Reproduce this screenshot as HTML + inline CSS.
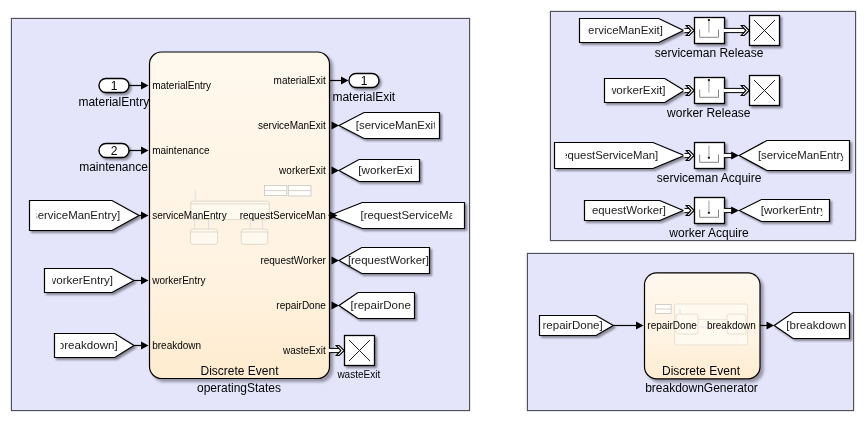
<!DOCTYPE html><html><head><meta charset="utf-8"><style>html,body{margin:0;padding:0;background:#fff;width:866px;height:421px;overflow:hidden}svg{display:block;font-family:"Liberation Sans",sans-serif;will-change:transform}</style></head><body>
<svg width="866" height="421" viewBox="0 0 866 421">
<defs>
<filter id="sh" x="-20%" y="-20%" width="150%" height="160%"><feGaussianBlur in="SourceAlpha" stdDeviation="1.3"/><feOffset dx="2.2" dy="2.4" result="b"/><feComponentTransfer><feFuncA type="linear" slope="0.42"/></feComponentTransfer><feMerge><feMergeNode/><feMergeNode in="SourceGraphic"/></feMerge></filter>
<filter id="sh2" x="-10%" y="-10%" width="130%" height="130%"><feGaussianBlur in="SourceAlpha" stdDeviation="1.5"/><feOffset dx="2.5" dy="2.5" result="b"/><feComponentTransfer><feFuncA type="linear" slope="0.35"/></feComponentTransfer><feMerge><feMergeNode/><feMergeNode in="SourceGraphic"/></feMerge></filter>
<linearGradient id="cg" x1="0" y1="0" x2="0" y2="1"><stop offset="0" stop-color="rgb(255,248,237)"/><stop offset="0.64" stop-color="rgb(255,243,226)"/><stop offset="1" stop-color="rgb(255,236,208)"/></linearGradient>
</defs>
<rect width="866" height="421" fill="#fff"/>
<rect x="11.5" y="18.5" width="458" height="392" fill="#e4e4fb" stroke="#50505c" stroke-width="1.3"/>
<rect x="12.6" y="19.6" width="455.8" height="389.8" fill="none" stroke="#f0f0ff" stroke-width="0.7"/>
<rect x="550.5" y="11.5" width="305" height="229" fill="#e4e4fb" stroke="#50505c" stroke-width="1.3"/>
<rect x="551.6" y="12.6" width="302.8" height="226.8" fill="none" stroke="#f0f0ff" stroke-width="0.7"/>
<rect x="527.5" y="253.5" width="326" height="157" fill="#e4e4fb" stroke="#50505c" stroke-width="1.3"/>
<rect x="528.6" y="254.6" width="323.8" height="154.8" fill="none" stroke="#f0f0ff" stroke-width="0.7"/>
<rect x="149.5" y="52" width="180.0" height="326.5" rx="12" ry="12" fill="url(#cg)" stroke="#000" stroke-width="1.2" filter="url(#sh2)"/>
<g fill="none" stroke-width="0.8">
<rect x="264.5" y="185.5" width="22.3" height="10" fill="#fffefb" stroke="#c9c6c0"/><line x1="264.5" y1="190.6" x2="286.8" y2="190.6" stroke="#c9c6c0"/>
<rect x="288.3" y="185.5" width="22.7" height="10.5" fill="#fffefb" stroke="#c9c6c0"/><line x1="288.3" y1="190.6" x2="311" y2="190.6" stroke="#c9c6c0"/>
<rect x="190.8" y="201.2" width="78.5" height="18.4" rx="2" fill="#fffaf0" stroke="#d9d0bf"/><line x1="190.8" y1="203.9" x2="269.3" y2="203.9" stroke="#d9d0bf"/>
<line x1="195.2" y1="190" x2="195.2" y2="201" stroke="#d3d9e6"/>
<rect x="190.4" y="229.1" width="27.2" height="15.2" rx="2.5" fill="#fffaf0" stroke="#d9d0bf"/><line x1="190.4" y1="232" x2="217.6" y2="232" stroke="#d9d0bf"/>
<rect x="241.2" y="229.1" width="26.6" height="15.2" rx="2.5" fill="#fffaf0" stroke="#d9d0bf"/><line x1="241.2" y1="232" x2="267.8" y2="232" stroke="#d9d0bf"/>
<g stroke="#d3d9e6"><line x1="194.6" y1="220" x2="194.6" y2="229"/><line x1="208.5" y1="220" x2="208.5" y2="229"/>
<line x1="250.3" y1="220" x2="250.3" y2="229"/><line x1="262.6" y1="220" x2="262.6" y2="229"/></g>
</g>
<text x="152.2" y="88.6" font-size="10" text-anchor="start" fill="#000" >materialEntry</text>
<text x="152.2" y="153.6" font-size="10" text-anchor="start" fill="#000" >maintenance</text>
<text x="152.2" y="218.6" font-size="10" text-anchor="start" fill="#000" >serviceManEntry</text>
<text x="152.2" y="283.6" font-size="10" text-anchor="start" fill="#000" >workerEntry</text>
<text x="152.2" y="348.6" font-size="10" text-anchor="start" fill="#000" >breakdown</text>
<text x="325.8" y="83.6" font-size="10" text-anchor="end" fill="#000" >materialExit</text>
<text x="325.8" y="128.6" font-size="10" text-anchor="end" fill="#000" >serviceManExit</text>
<text x="325.8" y="173.6" font-size="10" text-anchor="end" fill="#000" >workerExit</text>
<text x="325.8" y="218.6" font-size="10" text-anchor="end" fill="#000" >requestServiceMan</text>
<text x="325.8" y="263.6" font-size="10" text-anchor="end" fill="#000" >requestWorker</text>
<text x="325.8" y="308.6" font-size="10" text-anchor="end" fill="#000" >repairDone</text>
<text x="325.8" y="353.6" font-size="10" text-anchor="end" fill="#000" >wasteExit</text>
<text x="239.5" y="374.8" font-size="12" text-anchor="middle" fill="#000" >Discrete Event</text>
<text x="239" y="391.9" font-size="12" text-anchor="middle" fill="#000" >operatingStates</text>
<rect x="99" y="78.5" width="30" height="14" rx="7" ry="7" fill="#fff" stroke="#000" stroke-width="1.4" filter="url(#sh)"/>
<text x="114" y="89.5" font-size="12" text-anchor="middle" fill="#000" >1</text>
<line x1="129" y1="85.5" x2="141.5" y2="85.5" stroke="#000" stroke-width="1.2"/>
<polygon points="141.0,81.6 148.5,85.5 141.0,89.4" fill="#000"/>
<text x="113.8" y="106.3" font-size="12" text-anchor="middle" fill="#000" >materialEntry</text>
<rect x="99" y="143.5" width="30" height="14" rx="7" ry="7" fill="#fff" stroke="#000" stroke-width="1.4" filter="url(#sh)"/>
<text x="114" y="154.5" font-size="12" text-anchor="middle" fill="#000" >2</text>
<line x1="129" y1="150.5" x2="141.5" y2="150.5" stroke="#000" stroke-width="1.2"/>
<polygon points="141.0,146.6 148.5,150.5 141.0,154.4" fill="#000"/>
<text x="113.5" y="171" font-size="12" text-anchor="middle" fill="#000" >maintenance</text>
<polygon points="29.5,200.5 112,200.5 139,215.5 112,230.5 29.5,230.5" fill="#fff" stroke="#000" stroke-width="1.2" filter="url(#sh)"/>
<clipPath id="c1"><rect x="36.6" y="200.5" width="105.4" height="30.0"/></clipPath>
<text clip-path="url(#c1)" x="28.856250000000006" y="219.1" font-size="11" fill="#1a1a1a" textLength="91.3" lengthAdjust="spacingAndGlyphs">[serviceManEntry]</text>
<line x1="139" y1="215.5" x2="141.5" y2="215.5" stroke="#000" stroke-width="1.2"/>
<polygon points="141.0,211.6 148.5,215.5 141.0,219.4" fill="#000"/>
<polygon points="44.5,268.5 112,268.5 134,280.5 112,292.5 44.5,292.5" fill="#fff" stroke="#000" stroke-width="1.2" filter="url(#sh)"/>
<clipPath id="c2"><rect x="52.3" y="268.5" width="89.7" height="24.0"/></clipPath>
<text clip-path="url(#c2)" x="44.568749999999994" y="284.1" font-size="11" fill="#1a1a1a" textLength="68.5" lengthAdjust="spacingAndGlyphs">[workerEntry]</text>
<line x1="134" y1="280.5" x2="141.5" y2="280.5" stroke="#000" stroke-width="1.2"/>
<polygon points="141.0,276.6 148.5,280.5 141.0,284.4" fill="#000"/>
<polygon points="54.5,333.5 114.8,333.5 134,345.5 114.8,357.5 54.5,357.5" fill="#fff" stroke="#000" stroke-width="1.2" filter="url(#sh)"/>
<clipPath id="c3"><rect x="60.4" y="333.5" width="84.4" height="24.0"/></clipPath>
<text clip-path="url(#c3)" x="54.590625" y="349.1" font-size="11" fill="#1a1a1a" textLength="63.1" lengthAdjust="spacingAndGlyphs">[breakdown]</text>
<line x1="134" y1="345.5" x2="141.5" y2="345.5" stroke="#000" stroke-width="1.2"/>
<polygon points="141.0,341.6 148.5,345.5 141.0,349.4" fill="#000"/>
<line x1="329.5" y1="80.5" x2="341.5" y2="80.5" stroke="#000" stroke-width="1.2"/>
<polygon points="341.0,76.6 348.5,80.5 341.0,84.4" fill="#000"/>
<rect x="349" y="73.5" width="30" height="14" rx="7" ry="7" fill="#fff" stroke="#000" stroke-width="1.4" filter="url(#sh)"/>
<text x="364" y="84.5" font-size="12" text-anchor="middle" fill="#000" >1</text>
<text x="363.8" y="100.8" font-size="12" text-anchor="middle" fill="#000" >materialExit</text>
<polygon points="339,125.5 364,112.5 439.5,112.5 439.5,138.5 364,138.5" fill="#fff" stroke="#000" stroke-width="1.2" filter="url(#sh)"/>
<clipPath id="c4"><rect x="344" y="112.5" width="90.69999999999999" height="26.0"/></clipPath>
<text clip-path="url(#c4)" x="355.8" y="129.1" font-size="11" fill="#1a1a1a" textLength="83.7" lengthAdjust="spacingAndGlyphs">[serviceManExit]</text>
<polygon points="331.5,121.6 339,125.5 331.5,129.4" fill="#000"/>
<polygon points="339,170.5 359,159.5 419.5,159.5 419.5,181.5 359,181.5" fill="#fff" stroke="#000" stroke-width="1.2" filter="url(#sh)"/>
<clipPath id="c5"><rect x="339" y="159.5" width="74.0" height="22.0"/></clipPath>
<text clip-path="url(#c5)" x="358.3" y="174.1" font-size="11" fill="#1a1a1a" textLength="60.9" lengthAdjust="spacingAndGlyphs">[workerExit]</text>
<polygon points="331.5,166.6 339,170.5 331.5,174.4" fill="#000"/>
<polygon points="329.5,215.5 362.2,202.5 464.5,202.5 464.5,228.5 362.2,228.5" fill="#fff" stroke="#000" stroke-width="1.2" filter="url(#sh)"/>
<clipPath id="c6"><rect x="342.2" y="202.5" width="110.0" height="26.0"/></clipPath>
<text clip-path="url(#c6)" x="360.5" y="219.1" font-size="11" fill="#1a1a1a" textLength="103.9" lengthAdjust="spacingAndGlyphs">[requestServiceMan]</text>
<polygon points="330.0,211.6 337.5,215.5 330.0,219.4" fill="#000"/>
<polygon points="339,260.5 361.7,247.5 429.5,247.5 429.5,273.5 361.7,273.5" fill="#fff" stroke="#000" stroke-width="1.2" filter="url(#sh)"/>
<clipPath id="c7"><rect x="341.7" y="247.5" width="88.5" height="26.0"/></clipPath>
<text clip-path="url(#c7)" x="347.9" y="264.1" font-size="11" fill="#1a1a1a" textLength="81.1" lengthAdjust="spacingAndGlyphs">[requestWorker]</text>
<polygon points="331.5,256.6 339,260.5 331.5,264.4" fill="#000"/>
<polygon points="339,305.5 358,292.5 414.5,292.5 414.5,318.5 358,318.5" fill="#fff" stroke="#000" stroke-width="1.2" filter="url(#sh)"/>
<clipPath id="c8"><rect x="338" y="292.5" width="73.0" height="26.0"/></clipPath>
<text clip-path="url(#c8)" x="350.6" y="309.1" font-size="11" fill="#1a1a1a" textLength="63.5" lengthAdjust="spacingAndGlyphs">[repairDone]</text>
<polygon points="331.5,301.6 339,305.5 331.5,309.4" fill="#000"/>
<line x1="329.5" y1="350.5" x2="340.5" y2="350.5" stroke="#000" stroke-width="5.2"/>
<line x1="328.5" y1="350.5" x2="341.0" y2="350.5" stroke="#fff" stroke-width="3.2"/>
<polygon points="336.2,345.5 339.2,345.5 344.2,350.5 339.2,355.5 336.2,355.5 340.9,350.5" fill="#fff" stroke="#000" stroke-width="1.1" stroke-linejoin="miter"/>
<rect x="344.5" y="335.5" width="30.0" height="30.0" fill="#fff" stroke="#000" stroke-width="1.3" filter="url(#sh)"/>
<line x1="349.0" y1="340.0" x2="370.0" y2="361.0" stroke="#222" stroke-width="1"/>
<line x1="370.0" y1="340.0" x2="349.0" y2="361.0" stroke="#222" stroke-width="1"/>
<text x="358.8" y="378.2" font-size="10" text-anchor="middle" fill="#000" >wasteExit</text>
<polygon points="579.5,18.5 658.7,18.5 683.6,30.5 658.7,42.5 579.5,42.5" fill="#fff" stroke="#000" stroke-width="1.2" filter="url(#sh)"/>
<clipPath id="c9"><rect x="588.3" y="18.5" width="100.40000000000009" height="24.0"/></clipPath>
<text clip-path="url(#c9)" x="579.228125" y="34.1" font-size="11" fill="#1a1a1a" textLength="83.7" lengthAdjust="spacingAndGlyphs">[serviceManExit]</text>
<line x1="684.5" y1="30.5" x2="690.5" y2="30.5" stroke="#000" stroke-width="5.2"/>
<line x1="683.5" y1="30.5" x2="691.0" y2="30.5" stroke="#fff" stroke-width="3.2"/>
<polygon points="686.2,25.5 689.2,25.5 694.2,30.5 689.2,35.5 686.2,35.5 690.9,30.5" fill="#fff" stroke="#000" stroke-width="1.1" stroke-linejoin="miter"/>
<rect x="694.5" y="17.5" width="30.0" height="26.0" fill="#fff" stroke="#000" stroke-width="1.3" filter="url(#sh)"/>
<polyline points="699.7,29.5 699.7,37.3 718.5,37.3 718.5,29.5" fill="none" stroke="#858585" stroke-width="1"/>
<line x1="708.9" y1="20.0" x2="708.9" y2="32.5" stroke="#b5b5b5" stroke-width="1.3"/>
<circle cx="708.9" cy="20.1" r="1.15" fill="#111"/>
<line x1="724.5" y1="30.5" x2="745.5" y2="30.5" stroke="#000" stroke-width="5.2"/>
<line x1="723.5" y1="30.5" x2="746.0" y2="30.5" stroke="#fff" stroke-width="3.2"/>
<polygon points="741.2,25.5 744.2,25.5 749.2,30.5 744.2,35.5 741.2,35.5 745.9,30.5" fill="#fff" stroke="#000" stroke-width="1.1" stroke-linejoin="miter"/>
<rect x="749.5" y="15.5" width="30.0" height="30.0" fill="#fff" stroke="#000" stroke-width="1.3" filter="url(#sh)"/>
<line x1="754.0" y1="20.0" x2="775.0" y2="41.0" stroke="#222" stroke-width="1"/>
<line x1="775.0" y1="20.0" x2="754.0" y2="41.0" stroke="#222" stroke-width="1"/>
<text x="709.1" y="57.3" font-size="12" text-anchor="middle" fill="#000" >serviceman Release</text>
<polygon points="604.5,78.5 664.7,78.5 684.3,90.5 664.7,102.5 604.5,102.5" fill="#fff" stroke="#000" stroke-width="1.2" filter="url(#sh)"/>
<clipPath id="c10"><rect x="611.8" y="78.5" width="82.90000000000009" height="24.0"/></clipPath>
<text clip-path="url(#c10)" x="604.640625" y="94.1" font-size="11" fill="#1a1a1a" textLength="60.9" lengthAdjust="spacingAndGlyphs">[workerExit]</text>
<line x1="684.5" y1="90.5" x2="690.5" y2="90.5" stroke="#000" stroke-width="5.2"/>
<line x1="683.5" y1="90.5" x2="691.0" y2="90.5" stroke="#fff" stroke-width="3.2"/>
<polygon points="686.2,85.5 689.2,85.5 694.2,90.5 689.2,95.5 686.2,95.5 690.9,90.5" fill="#fff" stroke="#000" stroke-width="1.1" stroke-linejoin="miter"/>
<rect x="694.5" y="77.5" width="30.0" height="26.0" fill="#fff" stroke="#000" stroke-width="1.3" filter="url(#sh)"/>
<polyline points="699.7,89.5 699.7,97.3 718.5,97.3 718.5,89.5" fill="none" stroke="#858585" stroke-width="1"/>
<line x1="708.9" y1="80.0" x2="708.9" y2="92.5" stroke="#b5b5b5" stroke-width="1.3"/>
<circle cx="708.9" cy="80.1" r="1.15" fill="#111"/>
<line x1="724.5" y1="90.5" x2="745.5" y2="90.5" stroke="#000" stroke-width="5.2"/>
<line x1="723.5" y1="90.5" x2="746.0" y2="90.5" stroke="#fff" stroke-width="3.2"/>
<polygon points="741.2,85.5 744.2,85.5 749.2,90.5 744.2,95.5 741.2,95.5 745.9,90.5" fill="#fff" stroke="#000" stroke-width="1.1" stroke-linejoin="miter"/>
<rect x="749.5" y="75.5" width="30.0" height="30.0" fill="#fff" stroke="#000" stroke-width="1.3" filter="url(#sh)"/>
<line x1="754.0" y1="80.0" x2="775.0" y2="101.0" stroke="#222" stroke-width="1"/>
<line x1="775.0" y1="80.0" x2="754.0" y2="101.0" stroke="#222" stroke-width="1"/>
<text x="708.8" y="117.1" font-size="12" text-anchor="middle" fill="#000" >worker Release</text>
<polygon points="554.5,142.5 653,142.5 684.2,155.5 653,168.5 554.5,168.5" fill="#fff" stroke="#000" stroke-width="1.2" filter="url(#sh)"/>
<clipPath id="c11"><rect x="565.6" y="142.5" width="117.39999999999998" height="26.0"/></clipPath>
<text clip-path="url(#c11)" x="554.3093749999999" y="159.1" font-size="11" fill="#1a1a1a" textLength="103.9" lengthAdjust="spacingAndGlyphs">[requestServiceMan]</text>
<line x1="684.5" y1="155.5" x2="690.5" y2="155.5" stroke="#000" stroke-width="5.2"/>
<line x1="683.5" y1="155.5" x2="691.0" y2="155.5" stroke="#fff" stroke-width="3.2"/>
<polygon points="686.2,150.5 689.2,150.5 694.2,155.5 689.2,160.5 686.2,160.5 690.9,155.5" fill="#fff" stroke="#000" stroke-width="1.1" stroke-linejoin="miter"/>
<rect x="694.5" y="142.5" width="30.0" height="26.0" fill="#fff" stroke="#000" stroke-width="1.3" filter="url(#sh)"/>
<polyline points="699.7,154.5 699.7,162.3 718.5,162.3 718.5,154.5" fill="none" stroke="#858585" stroke-width="1"/>
<line x1="708.9" y1="145.5" x2="708.9" y2="157.8" stroke="#b5b5b5" stroke-width="1.3"/>
<circle cx="708.9" cy="157.8" r="1.15" fill="#111"/>
<line x1="724.5" y1="155.5" x2="733" y2="155.5" stroke="#000" stroke-width="5.2"/>
<line x1="723.5" y1="155.5" x2="733.5" y2="155.5" stroke="#fff" stroke-width="3.2"/>
<polygon points="739.2,155.5 766.9,140.5 849.5,140.5 849.5,170.5 766.9,170.5" fill="#fff" stroke="#000" stroke-width="1.2" filter="url(#sh)"/>
<clipPath id="c12"><rect x="746.9" y="140.5" width="96.30000000000007" height="30.0"/></clipPath>
<text clip-path="url(#c12)" x="757.9" y="159.1" font-size="11" fill="#1a1a1a" textLength="91.3" lengthAdjust="spacingAndGlyphs">[serviceManEntry]</text>
<polygon points="731.2,151.4 739,155.5 731.2,159.6" fill="#000"/>
<text x="709.1" y="182" font-size="12" text-anchor="middle" fill="#000" >serviceman Acquire</text>
<polygon points="584.5,200.5 659.7,200.5 683.2,210.5 659.7,220.5 584.5,220.5" fill="#fff" stroke="#000" stroke-width="1.2" filter="url(#sh)"/>
<clipPath id="c13"><rect x="591.6" y="200.5" width="98.10000000000002" height="20.0"/></clipPath>
<text clip-path="url(#c13)" x="584.921875" y="214.1" font-size="11" fill="#1a1a1a" textLength="81.1" lengthAdjust="spacingAndGlyphs">[requestWorker]</text>
<line x1="684.5" y1="210.5" x2="690.5" y2="210.5" stroke="#000" stroke-width="5.2"/>
<line x1="683.5" y1="210.5" x2="691.0" y2="210.5" stroke="#fff" stroke-width="3.2"/>
<polygon points="686.2,205.5 689.2,205.5 694.2,210.5 689.2,215.5 686.2,215.5 690.9,210.5" fill="#fff" stroke="#000" stroke-width="1.1" stroke-linejoin="miter"/>
<rect x="694.5" y="197.5" width="30.0" height="26.0" fill="#fff" stroke="#000" stroke-width="1.3" filter="url(#sh)"/>
<polyline points="699.7,209.5 699.7,217.3 718.5,217.3 718.5,209.5" fill="none" stroke="#858585" stroke-width="1"/>
<line x1="708.9" y1="200.5" x2="708.9" y2="212.8" stroke="#b5b5b5" stroke-width="1.3"/>
<circle cx="708.9" cy="212.8" r="1.15" fill="#111"/>
<line x1="724.5" y1="210.5" x2="733" y2="210.5" stroke="#000" stroke-width="5.2"/>
<line x1="723.5" y1="210.5" x2="733.5" y2="210.5" stroke="#fff" stroke-width="3.2"/>
<polygon points="739.4,210.5 761.4,199.5 829.5,199.5 829.5,221.5 761.4,221.5" fill="#fff" stroke="#000" stroke-width="1.2" filter="url(#sh)"/>
<clipPath id="c14"><rect x="741.4" y="199.5" width="80.80000000000007" height="22.0"/></clipPath>
<text clip-path="url(#c14)" x="760.7" y="214.1" font-size="11" fill="#1a1a1a" textLength="68.5" lengthAdjust="spacingAndGlyphs">[workerEntry]</text>
<polygon points="731.2,206.4 739,210.5 731.2,214.6" fill="#000"/>
<text x="709" y="236.9" font-size="12" text-anchor="middle" fill="#000" >worker Acquire</text>
<polygon points="539.5,315.5 596,315.5 613.3,325.5 596,335.5 539.5,335.5" fill="#fff" stroke="#000" stroke-width="1.2" filter="url(#sh)"/>
<clipPath id="c15"><rect x="543.2" y="315.5" width="82.79999999999995" height="20.0"/></clipPath>
<text clip-path="url(#c15)" x="539.253125" y="329.1" font-size="11" fill="#1a1a1a" textLength="63.5" lengthAdjust="spacingAndGlyphs">[repairDone]</text>
<line x1="613.3" y1="325.5" x2="636.5" y2="325.5" stroke="#000" stroke-width="1.2"/>
<polygon points="636.0,321.6 643.5,325.5 636.0,329.4" fill="#000"/>
<rect x="644.5" y="272.8" width="115.5" height="106.0" rx="12" ry="12" fill="url(#cg)" stroke="#000" stroke-width="1.2" filter="url(#sh2)"/>
<g fill="none" stroke-width="0.8">
<rect x="655.3" y="304.5" width="15.8" height="8.9" fill="#fffefb" stroke="#c9c6c0"/><line x1="655.3" y1="309" x2="671.1" y2="309" stroke="#c9c6c0"/>
<rect x="674.5" y="304" width="73" height="41" rx="2" fill="#fffaf0" stroke="#e3dccd"/>
<rect x="676" y="314" width="22" height="20" rx="2" fill="#fffaf0" stroke="#e0d8c8"/>
<rect x="727" y="314" width="19" height="20" rx="2" fill="#fffaf0" stroke="#e0d8c8"/>
<line x1="680" y1="309" x2="680" y2="314" stroke="#d3d9e6"/>
<line x1="698" y1="319.5" x2="727" y2="319.5" stroke="#e6e2da"/><line x1="698" y1="327" x2="727" y2="327" stroke="#e6e2da"/>
</g>
<text x="647.3" y="328.6" font-size="10" text-anchor="start" fill="#000" >repairDone</text>
<text x="755.8" y="328.6" font-size="10" text-anchor="end" fill="#000" >breakdown</text>
<text x="701" y="374.8" font-size="12" text-anchor="middle" fill="#000" >Discrete Event</text>
<text x="701.5" y="391.5" font-size="12" text-anchor="middle" fill="#000" >breakdownGenerator</text>
<line x1="760" y1="325.5" x2="767" y2="325.5" stroke="#000" stroke-width="1.2"/>
<polygon points="766.5,321.6 774,325.5 766.5,329.4" fill="#000"/>
<polygon points="774.2,325.5 793.1,312.5 849.5,312.5 849.5,338.5 793.1,338.5" fill="#fff" stroke="#000" stroke-width="1.2" filter="url(#sh)"/>
<clipPath id="c16"><rect x="773.1" y="312.5" width="73.10000000000002" height="26.0"/></clipPath>
<text clip-path="url(#c16)" x="786.3" y="329.1" font-size="11" fill="#1a1a1a" textLength="63.1" lengthAdjust="spacingAndGlyphs">[breakdown]</text>
</svg></body></html>
